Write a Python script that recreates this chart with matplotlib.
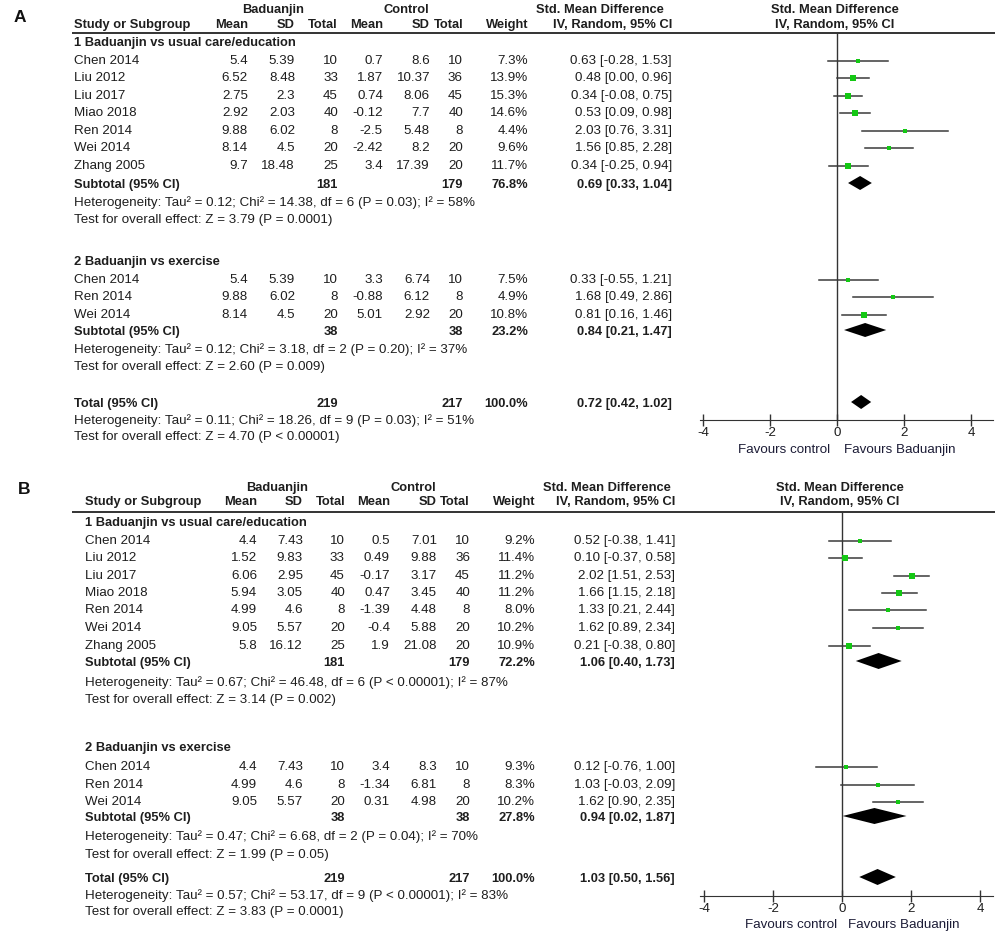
import matplotlib
matplotlib.use("Agg")
import matplotlib.pyplot as plt

plt.rcParams['font.family'] = ['Liberation Sans', 'DejaVu Sans']
plt.rcParams['axes.unicode_minus'] = False

# ---------------- DATA ----------------
groups = ["1 Baduanjin vs usual care/education", "2 Baduanjin vs exercise"]

# Panel A
A_g1_studies = ["Chen 2014", "Liu 2012", "Liu 2017", "Miao 2018", "Ren 2014", "Wei 2014", "Zhang 2005"]
A_g1_bmean = [5.4, 6.52, 2.75, 2.92, 9.88, 8.14, 9.7]
A_g1_bsd = [5.39, 8.48, 2.3, 2.03, 6.02, 4.5, 18.48]
A_g1_bn = [10, 33, 45, 40, 8, 20, 25]
A_g1_cmean = [0.7, 1.87, 0.74, -0.12, -2.5, -2.42, 3.4]
A_g1_csd = [8.6, 10.37, 8.06, 7.7, 5.48, 8.2, 17.39]
A_g1_cn = [10, 36, 45, 40, 8, 20, 20]
A_g1_w = [7.3, 13.9, 15.3, 14.6, 4.4, 9.6, 11.7]
A_g1_est = [0.63, 0.48, 0.34, 0.53, 2.03, 1.56, 0.34]
A_g1_lo = [-0.28, 0.00, -0.08, 0.09, 0.76, 0.85, -0.25]
A_g1_hi = [1.53, 0.96, 0.75, 0.98, 3.31, 2.28, 0.94]
A_g1_sub = dict(bn=181, cn=179, w=76.8, est=0.69, lo=0.33, hi=1.04)
A_g1_het = (0.12, 14.38, 6, "P = 0.03", 58)
A_g1_z = (3.79, "P = 0.0001")

A_g2_studies = ["Chen 2014", "Ren 2014", "Wei 2014"]
A_g2_bmean = [5.4, 9.88, 8.14]
A_g2_bsd = [5.39, 6.02, 4.5]
A_g2_bn = [10, 8, 20]
A_g2_cmean = [3.3, -0.88, 5.01]
A_g2_csd = [6.74, 6.12, 2.92]
A_g2_cn = [10, 8, 20]
A_g2_w = [7.5, 4.9, 10.8]
A_g2_est = [0.33, 1.68, 0.81]
A_g2_lo = [-0.55, 0.49, 0.16]
A_g2_hi = [1.21, 2.86, 1.46]
A_g2_sub = dict(bn=38, cn=38, w=23.2, est=0.84, lo=0.21, hi=1.47)
A_g2_het = (0.12, 3.18, 2, "P = 0.20", 37)
A_g2_z = (2.60, "P = 0.009")

A_tot = dict(bn=219, cn=217, w=100.0, est=0.72, lo=0.42, hi=1.02)
A_tot_het = (0.11, 18.26, 9, "P = 0.03", 51)
A_tot_z = (4.70, "P < 0.00001")

# Panel B
B_g1_studies = ["Chen 2014", "Liu 2012", "Liu 2017", "Miao 2018", "Ren 2014", "Wei 2014", "Zhang 2005"]
B_g1_bmean = [4.4, 1.52, 6.06, 5.94, 4.99, 9.05, 5.8]
B_g1_bsd = [7.43, 9.83, 2.95, 3.05, 4.6, 5.57, 16.12]
B_g1_bn = [10, 33, 45, 40, 8, 20, 25]
B_g1_cmean = [0.5, 0.49, -0.17, 0.47, -1.39, -0.4, 1.9]
B_g1_csd = [7.01, 9.88, 3.17, 3.45, 4.48, 5.88, 21.08]
B_g1_cn = [10, 36, 45, 40, 8, 20, 20]
B_g1_w = [9.2, 11.4, 11.2, 11.2, 8.0, 10.2, 10.9]
B_g1_est = [0.52, 0.10, 2.02, 1.66, 1.33, 1.62, 0.21]
B_g1_lo = [-0.38, -0.37, 1.51, 1.15, 0.21, 0.89, -0.38]
B_g1_hi = [1.41, 0.58, 2.53, 2.18, 2.44, 2.34, 0.80]
B_g1_sub = dict(bn=181, cn=179, w=72.2, est=1.06, lo=0.40, hi=1.73)
B_g1_het = (0.67, 46.48, 6, "P < 0.00001", 87)
B_g1_z = (3.14, "P = 0.002")

B_g2_studies = ["Chen 2014", "Ren 2014", "Wei 2014"]
B_g2_bmean = [4.4, 4.99, 9.05]
B_g2_bsd = [7.43, 4.6, 5.57]
B_g2_bn = [10, 8, 20]
B_g2_cmean = [3.4, -1.34, 0.31]
B_g2_csd = [8.3, 6.81, 4.98]
B_g2_cn = [10, 8, 20]
B_g2_w = [9.3, 8.3, 10.2]
B_g2_est = [0.12, 1.03, 1.62]
B_g2_lo = [-0.76, -0.03, 0.90]
B_g2_hi = [1.00, 2.09, 2.35]
B_g2_sub = dict(bn=38, cn=38, w=27.8, est=0.94, lo=0.02, hi=1.87)
B_g2_het = (0.47, 6.68, 2, "P = 0.04", 70)
B_g2_z = (1.99, "P = 0.05")

B_tot = dict(bn=219, cn=217, w=100.0, est=1.03, lo=0.50, hi=1.56)
B_tot_het = (0.57, 53.17, 9, "P < 0.00001", 83)
B_tot_z = (3.83, "P = 0.0001")

x_ticks = [-4, -2, 0, 2, 4]

# ---------------- LAYOUT ----------------
W, H = 1005, 943
fig = plt.figure(figsize=(W / 100, H / 100), dpi=100)
bg = fig.add_axes([0, 0, 1, 1])
bg.set_xlim(0, W)
bg.set_ylim(H, 0)
bg.axis('off')

FS = 9.6
FSB = 9.3
TXT = '#1e1e1e'
GREEN = '#14c814'
LINE = '#3a3a3a'


def hetstr(h):
    return ("Heterogeneity: Tau\u00b2 = %.2f; Chi\u00b2 = %.2f, df = %d (%s); I\u00b2 = %d%%"
            % (h[0], h[1], h[2], h[3], h[4]))


def zstr(z):
    return "Test for overall effect: Z = %.2f (%s)" % (z[0], z[1])


def panel(label, lab_xy, cols, hdr, rows, fx, axis_y, line_y, half_d, favours):
    bg.text(lab_xy[0], lab_xy[1], label, fontsize=12.5, fontweight='bold', color='#111',
            ha='left', va='center')
    y1, y2 = hdr
    kw = dict(fontsize=FSB, fontweight='bold', color=TXT, va='center')
    bg.text(cols['bhdr'], y1, "Baduanjin", ha='center', **kw)
    bg.text(cols['chdr'], y1, "Control", ha='center', **kw)
    bg.text(cols['smd'], y1, "Std. Mean Difference", ha='center', **kw)
    bg.text(cols['smd2'], y1, "Std. Mean Difference", ha='center', **kw)
    bg.text(cols['name'], y2, "Study or Subgroup", ha='left', **kw)
    for key, t in [('bm', 'Mean'), ('bs', 'SD'), ('bn', 'Total'), ('cm', 'Mean'),
                   ('cs', 'SD'), ('cn', 'Total'), ('w', 'Weight'), ('ci', 'IV, Random, 95% CI')]:
        bg.text(cols[key], y2, t, ha='right', **kw)
    bg.text(cols['smd2'], y2, "IV, Random, 95% CI", ha='center', **kw)
    bg.plot([72, 995], [line_y, line_y], color='#333', lw=1.4, solid_capstyle='butt')

    # forest axes
    L, R = 688, 1000
    zero, scale = fx
    fa = fig.add_axes([L / W, 1 - axis_y / H, (R - L) / W, (axis_y - line_y) / H])
    fa.set_xlim((L - zero) / scale, (R - zero) / scale)
    fa.set_ylim(axis_y, line_y)
    fa.patch.set_alpha(0)
    for s in ['top', 'right', 'left']:
        fa.spines[s].set_visible(False)
    fa.spines['bottom'].set_bounds((700 - zero) / scale, (993 - zero) / scale)
    fa.spines['bottom'].set_color('#333')
    fa.set_yticks([])
    fa.set_xticks(x_ticks)
    fa.set_xticklabels([str(t) for t in x_ticks])
    fa.tick_params(axis='x', direction='inout', length=8, width=1, color='#333',
                   labelsize=FS, labelcolor=TXT, pad=1)
    fa.axvline(0, color='#333', lw=1)

    reg = dict(fontsize=FS, color=TXT, va='center')
    bold = dict(fontsize=FSB, color=TXT, va='center', fontweight='bold')
    for r in rows:
        kind, y = r[0], r[1]
        if kind == 'group':
            bg.text(cols['name'], y, r[2], ha='left', **bold)
        elif kind == 'study':
            name, bm, bs, bn, cm, cs, cn, w, est, lo, hi = r[2:]
            bg.text(cols['name'], y, name, ha='left', **reg)
            for key, v in [('bm', bm), ('bs', bs), ('bn', bn), ('cm', cm), ('cs', cs), ('cn', cn)]:
                bg.text(cols[key], y, "%g" % v, ha='right', **reg)
            bg.text(cols['w'], y, "%.1f%%" % w, ha='right', **reg)
            bg.text(cols['ci'], y, "%.2f [%.2f, %.2f]" % (est, lo, hi), ha='right', **reg)
            fa.plot([lo, hi], [y, y], color=LINE, lw=1.1, clip_on=False, zorder=2)
            side = 1.55 * w ** 0.5
            fa.plot([est], [y], marker='s', ms=side * 0.72, color=GREEN, mec=GREEN,
                    mew=0, clip_on=False, zorder=3)
        elif kind in ('sub', 'tot'):
            d = r[2]
            bg.text(cols['name'], y, "Subtotal (95% CI)" if kind == 'sub' else "Total (95% CI)",
                    ha='left', **bold)
            bg.text(cols['bn'], y, "%d" % d['bn'], ha='right', **bold)
            bg.text(cols['cn'], y, "%d" % d['cn'], ha='right', **bold)
            bg.text(cols['w'], y, "%.1f%%" % d['w'], ha='right', **bold)
            bg.text(cols['ci'], y, "%.2f [%.2f, %.2f]" % (d['est'], d['lo'], d['hi']),
                    ha='right', **bold)
            yy = y - 2
            fa.fill([d['lo'], d['est'], d['hi'], d['est']], [yy, yy - half_d, yy, yy + half_d],
                    color='black', lw=0, clip_on=False, zorder=3)
        elif kind == 'text':
            bg.text(cols['name'], y, r[2], ha='left', **reg)

    fy, fxl, fxr = favours
    bg.text(fxl, fy, "Favours control", ha='right', fontsize=FS, color='#1c1c36', va='center')
    bg.text(fxr, fy, "Favours Baduanjin", ha='left', fontsize=FS, color='#1c1c36', va='center')


def build_rows(ys, g1, g2, tot):
    rows = []
    it = iter(ys)
    for g, (studies, bm, bs, bn, cm, cs, cn, w, est, lo, hi, sub, het, z) in zip(groups, [g1, g2]):
        rows.append(('group', next(it), g))
        for i in range(len(studies)):
            rows.append(('study', next(it), studies[i], bm[i], bs[i], bn[i], cm[i], cs[i], cn[i],
                         w[i], est[i], lo[i], hi[i]))
        rows.append(('sub', next(it), sub))
        rows.append(('text', next(it), hetstr(het)))
        rows.append(('text', next(it), zstr(z)))
    d, het, z = tot
    rows.append(('tot', next(it), d))
    rows.append(('text', next(it), hetstr(het)))
    rows.append(('text', next(it), zstr(z)))
    return rows


A_y = [43, 61, 78, 96, 113, 131, 148, 166, 185, 203, 220,
       262, 280, 297, 315, 332, 350, 367,
       404, 421, 437]
B_y = [523, 541, 558, 576, 593, 610, 628, 646, 663, 683, 700,
       748, 767, 785, 802, 818, 837, 855,
       879, 896, 912]

A_rows = build_rows(A_y,
                    (A_g1_studies, A_g1_bmean, A_g1_bsd, A_g1_bn, A_g1_cmean, A_g1_csd, A_g1_cn,
                     A_g1_w, A_g1_est, A_g1_lo, A_g1_hi, A_g1_sub, A_g1_het, A_g1_z),
                    (A_g2_studies, A_g2_bmean, A_g2_bsd, A_g2_bn, A_g2_cmean, A_g2_csd, A_g2_cn,
                     A_g2_w, A_g2_est, A_g2_lo, A_g2_hi, A_g2_sub, A_g2_het, A_g2_z),
                    (A_tot, A_tot_het, A_tot_z))
B_rows = build_rows(B_y,
                    (B_g1_studies, B_g1_bmean, B_g1_bsd, B_g1_bn, B_g1_cmean, B_g1_csd, B_g1_cn,
                     B_g1_w, B_g1_est, B_g1_lo, B_g1_hi, B_g1_sub, B_g1_het, B_g1_z),
                    (B_g2_studies, B_g2_bmean, B_g2_bsd, B_g2_bn, B_g2_cmean, B_g2_csd, B_g2_cn,
                     B_g2_w, B_g2_est, B_g2_lo, B_g2_hi, B_g2_sub, B_g2_het, B_g2_z),
                    (B_tot, B_tot_het, B_tot_z))

A_cols = dict(name=74, bm=248, bs=295, bn=338, cm=383, cs=430, cn=463, w=528, ci=672,
              bhdr=273, chdr=406, smd=600, smd2=835)
B_cols = dict(name=85, bm=257, bs=303, bn=345, cm=390, cs=437, cn=470, w=535, ci=675,
              bhdr=277, chdr=413, smd=607, smd2=840)

panel("A", (14, 17), A_cols, (10, 25), A_rows, (837, 33.5), 420, 33, 7, (450, 830, 844))
panel("B", (18, 490), B_cols, (488, 502), B_rows, (842, 34.5), 896, 512, 8, (925, 837, 848))

fig.savefig("out.png", dpi=100, facecolor='white')
